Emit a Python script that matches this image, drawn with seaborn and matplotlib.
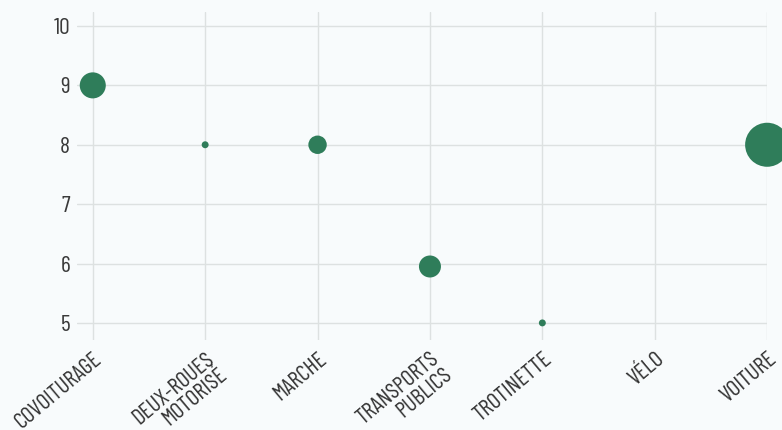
import pandas as pd
import numpy as np
import seaborn as sns
import matplotlib.pyplot as plt

# Data
categories = ['COVOITURAGE', 'DEUX-ROUES\nMOTORISÉ', 'MARCHE', 'TRANSPORTS\nPUBLICS',
              'TROTINETTE', 'VÉLO', 'VOITURE']
scores = [9, 8, 8, 5.95, 5, np.nan, 8]
counts = [14, 1, 7, 10, 1, np.nan, 40]

df = pd.DataFrame({'pos': range(len(categories)), 'score': scores, 'count': counts}).dropna()

sns.set_style('white')
plt.rcParams['font.family'] = ['Barlow Condensed', 'DejaVu Sans']

fig = plt.figure(figsize=(7.82, 4.30), dpi=100, facecolor='#f8fbfc')
ax = fig.add_axes([0.0985, 0.209, 0.8825, 0.763])
ax.set_facecolor('#f8fbfc')

sns.scatterplot(data=df, x='pos', y='score', size='count', sizes=(25, 1005),
                size_norm=(1, 40), color='#2f7d5a', edgecolor='none',
                legend=False, ax=ax, clip_on=False, zorder=3)

ax.set_xlim(-0.14, 6)
ax.set_ylim(4.71, 10.235)
ax.set_yticks([5, 6, 7, 8, 9, 10])
ax.set_xticks(range(len(categories)))
ax.set_xticklabels(categories, rotation=40, ha='right', rotation_mode='anchor',
                   fontsize=16.5, color='#333333', linespacing=0.95)
ax.tick_params(axis='y', labelsize=17, colors='#3a3a3a', length=0, pad=5)
ax.tick_params(axis='x', length=0, pad=6)
ax.grid(True, color='#dde1e1', linewidth=1)
ax.set_axisbelow(True)
for s in ax.spines.values():
    s.set_visible(False)
ax.set_xlabel('')
ax.set_ylabel('')

fig.savefig('out.png', dpi=100, facecolor=fig.get_facecolor())
